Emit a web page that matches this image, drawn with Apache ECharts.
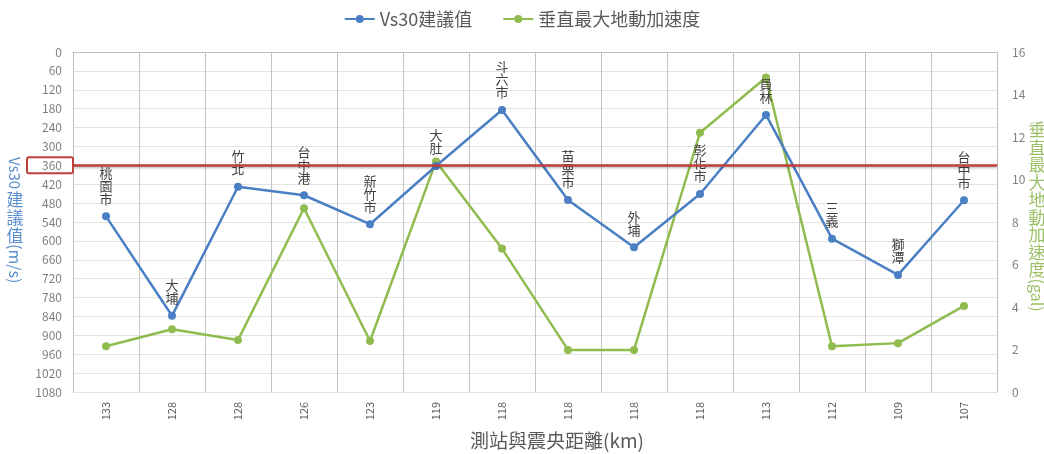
<!DOCTYPE html>
<html>
<head>
<meta charset="utf-8">
<script src="https://cdn.jsdelivr.net/npm/echarts@6/dist/echarts.min.js"></script>
<style>
  html, body { margin: 0; padding: 0; background: #fff; }
  #chart { width: 1044px; height: 454px; }
</style>
</head>
<body>
<div id="chart"></div>
<script>
// Stations (labels above the Vs30 points) and their epicentral distance (km)
const stations = ['桃園市', '大埔', '竹北', '台中港', '新竹市', '大肚', '斗六市', '苗栗市', '外埔', '彰化市', '員林', '三義', '獅潭', '台中市'];
const distances = ['133', '128', '128', '126', '123', '119', '118', '118', '118', '118', '113', '112', '109', '107'];
// Vs30 suggested value (m/s), left axis (inverted)
const vs30 = [522, 838, 428, 455, 547, 362, 184, 470, 620, 451, 200, 593, 708, 471];
// Peak vertical ground acceleration (gal), right axis
const pga = [2.15, 2.95, 2.45, 8.65, 2.4, 10.85, 6.75, 1.98, 1.98, 12.2, 14.8, 2.15, 2.3, 4.05];
// Reference Vs30 threshold
const threshold = 360;

const BLUE = '#4a7fc4';
const GREEN = '#8fbb4f';
const RED = '#c0413c';
const FONT = '"Noto Sans CJK TC", "Noto Sans", sans-serif';

const chart = echarts.init(document.getElementById('chart'));

const option = {
  animation: false,
  backgroundColor: '#fff',
  textStyle: { fontFamily: FONT },
  grid: { left: 73, right: 47, top: 52, bottom: 62, outerBoundsMode: 'none', containLabel: false },
  legend: {
    top: 5,
    left: 'center',
    itemWidth: 30,
    itemHeight: 10,
    itemGap: 30,
    textStyle: { fontSize: 18, color: '#595959', fontFamily: FONT },
    data: ['Vs30建議值', '垂直最大地動加速度']
  },
  xAxis: {
    type: 'category',
    data: distances,
    boundaryGap: true,
    axisLine: { lineStyle: { color: '#bfbfbf' } },
    axisTick: { show: true, length: 4, lineStyle: { color: '#bfbfbf' } },
    axisLabel: { rotate: 90, fontSize: 11, color: '#595959', margin: 10, fontFamily: FONT },
    splitLine: { show: true, lineStyle: { color: '#c4c4c4', width: 1 } }
  },
  yAxis: [
    {
      type: 'value',
      inverse: true,
      min: 0,
      max: 1080,
      interval: 60,
      axisLine: { show: true, lineStyle: { color: '#bfbfbf' } },
      axisTick: { show: false },
      axisLabel: { fontSize: 12, color: '#7f7f7f', margin: 11, fontFamily: FONT, formatter: v => String(v) },
      splitLine: { show: true, lineStyle: { color: '#e3e3e3', width: 1 } }
    },
    {
      type: 'value',
      min: 0,
      max: 16,
      interval: 2,
      axisLine: { show: true, lineStyle: { color: '#bfbfbf' } },
      axisTick: { show: false },
      axisLabel: { fontSize: 12, color: '#7f7f7f', margin: 15, fontFamily: FONT, formatter: v => String(v) },
      splitLine: { show: false }
    }
  ],
  series: [
    {
      name: 'Vs30建議值',
      type: 'line',
      yAxisIndex: 0,
      data: vs30,
      symbol: 'circle',
      symbolSize: 8,
      z: 4,
      lineStyle: { color: BLUE, width: 2.5 },
      itemStyle: { color: BLUE },
      label: {
        show: true,
        position: 'top',
        distance: 7,
        fontSize: 13,
        lineHeight: 13,
        color: '#404040',
        fontFamily: FONT,
        formatter: p => stations[p.dataIndex].split('').join('\n')
      },
      markLine: {
        silent: true,
        symbol: 'none',
        label: { show: false },
        lineStyle: {
          color: RED, width: 2.5, type: 'solid',
          shadowColor: 'rgba(0,0,0,0.35)', shadowBlur: 3, shadowOffsetY: 1
        },
        data: [{ yAxis: threshold }]
      }
    },
    {
      name: '垂直最大地動加速度',
      type: 'line',
      yAxisIndex: 1,
      data: pga,
      symbol: 'circle',
      symbolSize: 8,
      z: 3,
      lineStyle: { color: GREEN, width: 2.5 },
      itemStyle: { color: GREEN }
    }
  ]
};

chart.setOption(option);

// Vertical axis titles: Latin runs rotated, CJK characters upright
function verticalTitle(parts, x, yStart, color, size, step) {
  const els = [];
  let y = yStart;
  parts.forEach(part => {
    if (part.rotate) {
      const fs = part.size || size;
      const w = echarts.format.getTextRect
        ? echarts.format.getTextRect(part.text, fs + 'px ' + FONT).width
        : part.text.length * fs * 0.6;
      els.push({
        type: 'text',
        x: x, y: y + w / 2,
        rotation: -Math.PI / 2,
        style: { text: part.text, fill: color, fontSize: fs, fontFamily: FONT, align: 'center', verticalAlign: 'middle' }
      });
      y += w + 1;
    } else {
      part.text.split('').forEach(ch => {
        els.push({
          type: 'text',
          x: x, y: y + step / 2,
          style: { text: ch, fill: color, fontSize: size, fontFamily: FONT, align: 'center', verticalAlign: 'middle' }
        });
        y += step;
      });
    }
  });
  return els;
}

const yThr = chart.convertToPixel({ yAxisIndex: 0 }, threshold);

const graphics = [
  // box around the 360 tick label and connector to the threshold line
  {
    type: 'rect',
    shape: { x: 27, y: yThr - 8, width: 46, height: 16, r: 2 },
    style: { fill: 'none', stroke: RED, lineWidth: 2 },
    z: 10
  },
  {
    type: 'line',
    shape: { x1: 73, y1: yThr, x2: 75, y2: yThr },
    style: { stroke: RED, lineWidth: 2.5 },
    z: 10
  },
  // category axis title
  {
    type: 'text',
    x: 557, y: 441,
    style: {
      text: '測站與震央距離(km)', fill: '#595959', fontSize: 19, fontFamily: FONT,
      align: 'center', verticalAlign: 'middle'
    }
  }
].concat(
  verticalTitle(
    [{ text: 'Vs30', rotate: true, size: 15 }, { text: '建議值' }, { text: '(m/s)', rotate: true, size: 16 }],
    15, 157, '#5b8fd0', 17, 18
  ),
  verticalTitle(
    [{ text: '垂直最大地動加速度' }, { text: '(gal)', rotate: true, size: 16 }],
    1037, 121, '#9cc068', 17, 17.5
  )
);

chart.setOption({ graphic: graphics });
</script>
</body>
</html>
